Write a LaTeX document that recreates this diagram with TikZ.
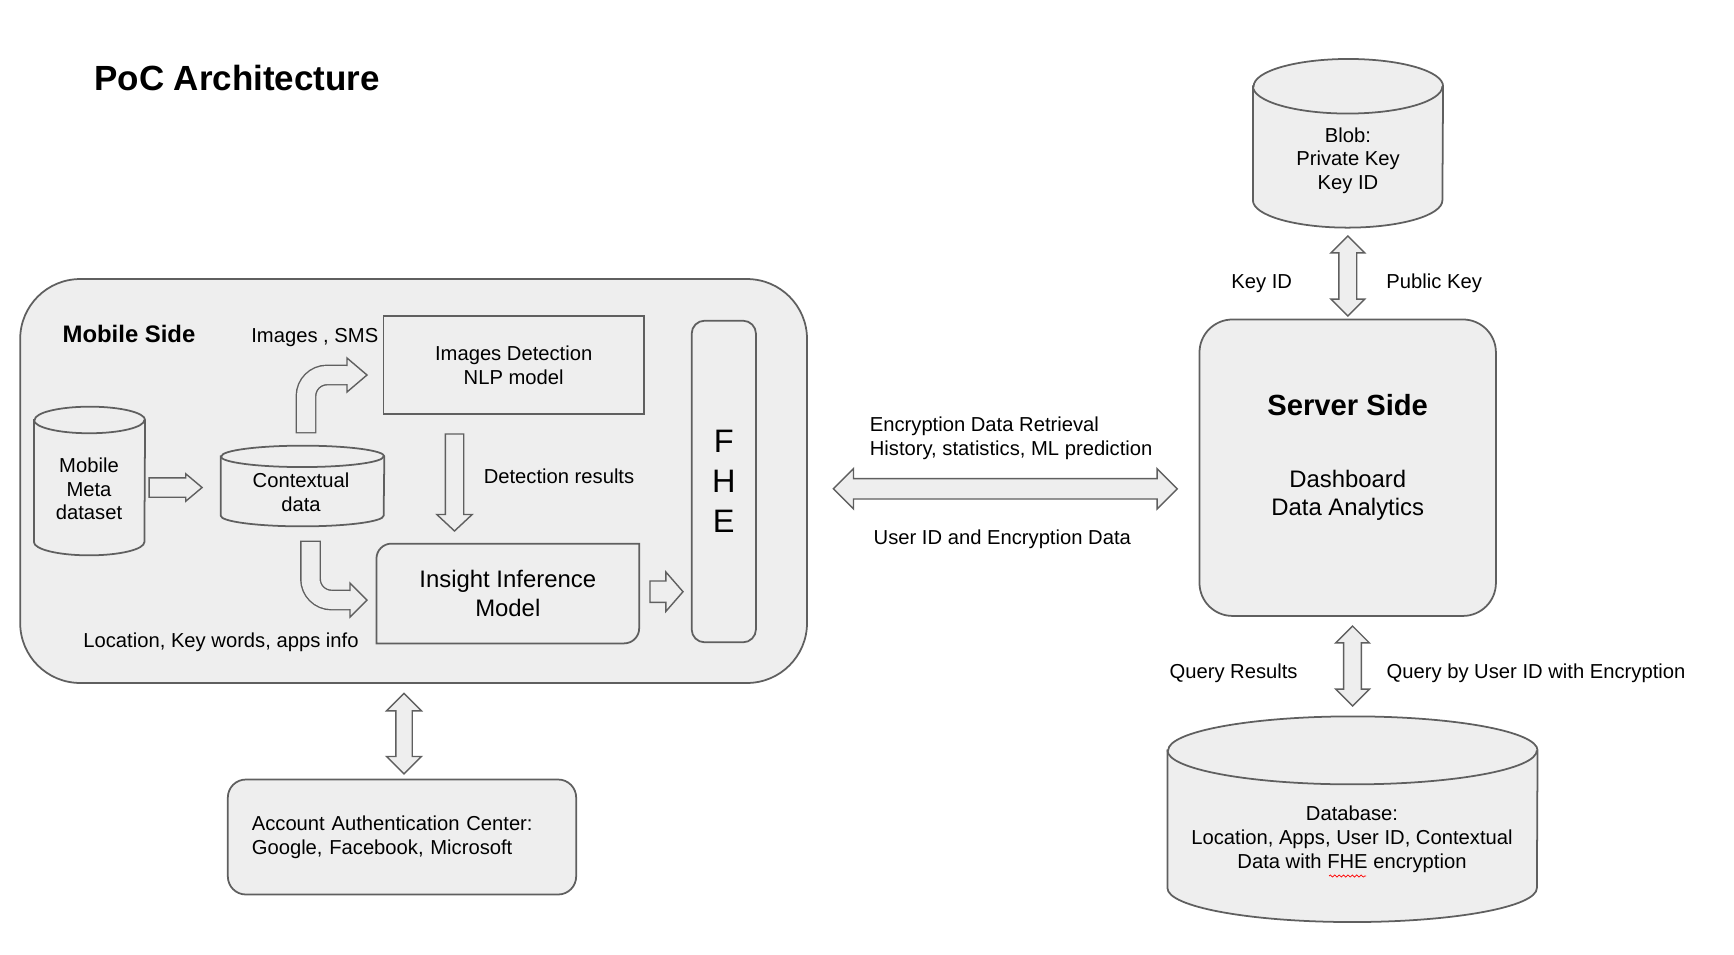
\documentclass[tikz,border=0pt]{standalone}
\usepackage{fontspec}
\setmainfont{Liberation Sans}
\usetikzlibrary{shapes.geometric,shapes.arrows,positioning,decorations.pathmorphing}
\definecolor{boxfill}{HTML}{EEEEEE}
\definecolor{boxline}{HTML}{5F5F5F}
% cylinder outline round a named node: node, x radius, y radius
\newcommand{\drumline}[3]{%
  \filldraw[draw=boxline, fill=boxfill, line width=1pt] ([yshift=-#3]#1.north west) -- ([yshift=#3]#1.south west)
    arc[x radius=#2, y radius=#3, start angle=180, end angle=360]
    -- ([yshift=-#3]#1.north east)
    arc[x radius=#2, y radius=#3, start angle=0, end angle=180] -- cycle;
  \draw[draw=boxline, line width=1pt] ([yshift=-#3]#1.north west)
    arc[x radius=#2, y radius=#3, start angle=180, end angle=360];
}

\begin{document}
\begin{tikzpicture}[
  x=0.02cm, y=-0.02cm,
  txt/.style={font=\fontsize{11.5}{13.4}\selectfont, align=center, inner sep=0pt},
  big/.style={font=\fontsize{13.6}{16.2}\selectfont},
  box/.style={draw=boxline, fill=boxfill, line width=1pt, inner sep=0pt, txt},
  drum/.style={inner sep=0pt},
  fat/.style={draw=boxline, fill=boxfill, line width=0.8pt, inner sep=0pt},
  onearrow/.style={fat, single arrow, single arrow head indent=0pt, anchor=tail},
  twoarrow/.style={fat, double arrow, double arrow head indent=0pt}
]
\useasboundingbox (0,0) rectangle (1734,954);

% title
\node[txt, anchor=west, font=\fontsize{19.9}{23}\selectfont\bfseries] (title) at (94,78) {PoC Architecture};

% mobile side
\node[box, rounded corners=1.2cm, minimum width=15.74cm, minimum height=8.08cm] (mobile) at (413.6,481) {};
\node[txt, font=\fontsize{13.6}{16}\selectfont\bfseries] (mobtitle) at (129,334) {Mobile Side};
\node[drum, minimum width=2.21cm, minimum height=2.96cm] (meta) at (89.5,481) {};
\drumline{meta}{1.105cm}{0.266cm}
\node[txt] (metatext) at (89,489) {Mobile\\Meta\\dataset};
\node[drum, minimum width=3.26cm, minimum height=1.6cm] (ctx) at (302.5,486) {};
\drumline{ctx}{1.63cm}{0.214cm}
\node[txt] (ctxtext) at (301,492.5) {Contextual\\data};
\node[box, minimum width=5.214cm, minimum height=1.96cm] (imgdet) at (513.7,365) {Images Detection\\NLP model};
\node[box, big, draw=none, minimum width=5.22cm, minimum height=1.96cm] (ins) at (507.8,593.5) {Insight Inference\\Model};
\draw[draw=boxline, line width=1pt] (ins.south west) -- ([yshift=-0.3cm]ins.north west)
  arc[start angle=180, end angle=90, radius=0.3cm] -- (ins.north east)
  -- ([yshift=0.3cm]ins.south east) arc[start angle=0, end angle=-90, radius=0.3cm] -- cycle;
\node[box, rounded corners=0.26cm, minimum width=1.286cm, minimum height=6.434cm, font=\fontsize{18.5}{22.8}\selectfont] (fhe) at (723.8,481.5) {F\\H\\E};

\node[txt] (imgsms) at (314.8,338) {Images , SMS};
\node[txt] (detres) at (559,476) {Detection results};
\node[txt] (locinfo) at (221,642) {Location, Key words, apps info};

% block arrows inside
\node[onearrow, minimum height=1.06cm, minimum width=0.52cm, inner sep=0.18cm, single arrow head extend=0.08cm, single arrow tip angle=80] (metatoctx) at (148.4,487.5) {};
\draw[draw=boxline, line width=0.36cm+1.6pt, rounded corners=0.42cm] (306,433.4) -- (306,375) -- (348,375);
\draw[draw=boxfill, line width=0.36cm, rounded corners=0.42cm] (306,432) -- (306,375) -- (348,375);
\filldraw[fat] (347,366) -- (347,358) -- (367,375) -- (347,392) -- (347,384);
\draw[draw=boxline, line width=0.36cm+1.6pt, rounded corners=0.42cm] (310.5,540.6) -- (310.5,600) -- (351,600);
\draw[draw=boxfill, line width=0.36cm, rounded corners=0.42cm] (310.5,542) -- (310.5,600) -- (351,600);
\filldraw[fat] (350,591) -- (350,583) -- (367,600) -- (350,617) -- (350,609);
\node[onearrow, shape border rotate=270, minimum height=1.94cm, minimum width=0.68cm, inner sep=0.17cm, single arrow head extend=0.17cm, single arrow tip angle=94] (imgtoins) at (454.5,433.3) {};
\node[onearrow, minimum height=0.66cm, minimum width=0.76cm, inner sep=0.2cm, single arrow head extend=0.18cm, single arrow tip angle=98] (instofhe) at (649.3,591.7) {};

% authentication
\node[twoarrow, shape border rotate=90, minimum height=1.61cm, minimum width=0.67cm, inner sep=0.15cm, double arrow head extend=0.185cm] (mobauth) at (404,733.7) {};
\node[box, rounded corners=0.36cm, text width=6.008cm, inner xsep=0.48cm, minimum height=2.3cm, align=left] (auth) at (402,837) {Account Authentication Center:\\Google, Facebook, Microsoft};

% link to server
\node[twoarrow, minimum height=6.88cm, minimum width=0.78cm, inner sep=0.19cm, double arrow head extend=0.2cm] (link) at (1005.3,488.8) {};
\node[txt, anchor=west, align=left] (uplink) at (869.5,438.4) {Encryption Data Retrieval\\History, statistics, ML prediction};
\node[txt] (downlink) at (1002.3,539) {User ID and Encryption Data};

% server side
\node[box, rounded corners=0.66cm, minimum width=5.93cm, minimum height=5.93cm] (server) at (1347.7,467.7) {};
\node[txt, font=\fontsize{16.6}{20}\selectfont\bfseries] (srvtitle) at (1347.7,405) {Server Side};
\node[txt, big] (srvtext) at (1347.7,495.3) {Dashboard\\Data Analytics};

% key storage
\node[drum, minimum width=3.79cm, minimum height=3.36cm] (blob) at (1348,143.3) {};
\drumline{blob}{1.895cm}{0.546cm}
\node[txt] (blobtext) at (1348,160.5) {Blob:\\Private Key\\Key ID};
\node[twoarrow, shape border rotate=90, minimum height=1.6cm, minimum width=0.65cm, inner sep=0.164cm, double arrow head extend=0.16cm] (blobsrv) at (1347.8,276) {};
\node[txt] (keyid) at (1261.7,283.3) {Key ID};
\node[txt] (pubkey) at (1434.2,283.3) {Public Key};

% database
\node[twoarrow, shape border rotate=90, minimum height=1.6cm, minimum width=0.65cm, inner sep=0.164cm, double arrow head extend=0.16cm] (srvdb) at (1352.5,666) {};
\node[txt] (qres) at (1233.6,673.3) {Query Results};
\node[txt] (qby) at (1536,673.3) {Query by User ID with Encryption};
\node[drum, minimum width=7.39cm, minimum height=4.1cm] (db) at (1352.5,819.2) {};
\drumline{db}{3.695cm}{0.68cm}
\node[txt, font=\fontsize{11.5}{13.8}\selectfont] (dbtext) at (1352,839.5) {Database:\\Location, Apps, User ID, Contextual\\Data with FHE encryption};
\draw[red, decorate, decoration={snake, amplitude=0.6pt, segment length=2.5pt}] (1329,876) -- (1366,876);
\end{tikzpicture}
\end{document}
